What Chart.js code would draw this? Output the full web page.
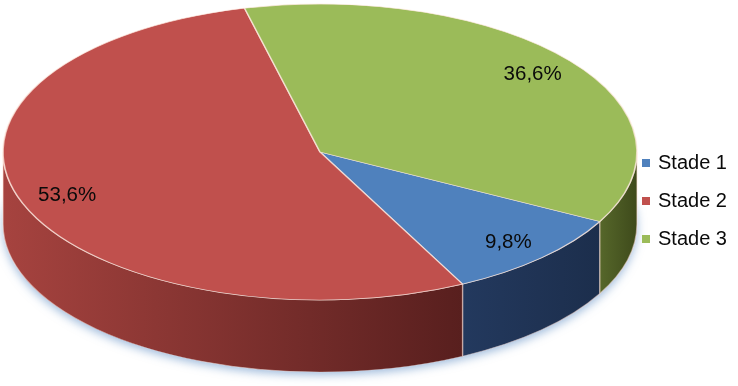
<!DOCTYPE html>
<html lang="fr">
<head>
<meta charset="UTF-8">
<title>Stades</title>
<script src="https://cdn.jsdelivr.net/npm/chart.js@4"></script>
<style>
  html, body { margin: 0; padding: 0; background: #fff; }
</style>
</head>
<body>
<canvas id="pie" width="738" height="386"></canvas>
<script>
const labels = ['Stade 1', 'Stade 2', 'Stade 3']
const values = [9.8, 53.6, 36.6]

const topColors = ['#4F81BD', '#C0504D', '#9BBB59']
// side wall gradient, left -> right
const wallColors = [
  ['#23395E', '#1C2E4C'],
  ['#A6433F', '#581F1E'],
  ['#56672A', '#3E4A1B']
]

// where the tilted disc sits on the page
const disc = { cx: 320, cy: 152, rx: 317, ry: 148, depth: 72, labelAt: 0.85 }
const legendBox = { x: 642, y: 163, gap: 38, size: 8 }
const FONT = "'Liberation Sans', Arial, sans-serif"

const fmt = v => v.toFixed(1).replace('.', ',') + '%'

// parts of [s, e] that face the viewer (lower half of the ellipse)
const frontParts = (s, e) => {
  const out = []
  for (let k = -1; k <= 2; k++) {
    const a = Math.max(s, k * 2 * Math.PI)
    const b = Math.min(e, k * 2 * Math.PI + Math.PI)
    if (b > a) out.push([a, b])
  }
  return out
}

const discPlugin = {
  id: 'disc',
  beforeDatasetsDraw(chart) {
    const ctx = chart.ctx
    const arcs = chart.getDatasetMeta(0).data
    const a0 = arcs[0]
    const R = a0.outerRadius
    const d = disc.depth * R / disc.ry

    ctx.save()
    ctx.translate(disc.cx, disc.cy)
    ctx.scale(disc.rx / R, disc.ry / R)
    ctx.translate(-a0.x, -a0.y)

    // soft bluish shadow under the disc
    ctx.save()
    ctx.shadowColor = 'rgba(79,129,189,0.55)'
    ctx.shadowBlur = 10
    ctx.shadowOffsetY = 3
    ctx.beginPath()
    ctx.arc(a0.x, a0.y + d, R, 0, Math.PI * 2)
    ctx.fillStyle = '#8a9fc0'
    ctx.fill()
    ctx.restore()

    arcs.forEach((arc, i) => {
      frontParts(arc.startAngle, arc.endAngle).forEach(([s, e]) => {
        const xs = a0.x + R * Math.cos(s)
        const xe = a0.x + R * Math.cos(e)
        const g = ctx.createLinearGradient(Math.min(xs, xe), 0, Math.max(xs, xe), 0)
        g.addColorStop(0, wallColors[i][0])
        g.addColorStop(1, wallColors[i][1])
        ctx.beginPath()
        ctx.arc(a0.x, a0.y, R, s, e)
        ctx.arc(a0.x, a0.y + d, R, e, s, true)
        ctx.closePath()
        ctx.fillStyle = g
        ctx.fill()
        ctx.strokeStyle = 'rgba(255,225,215,0.55)'
        ctx.lineWidth = 0.8
        ctx.stroke()
      })
    })
  },
  afterDatasetsDraw(chart) {
    const ctx = chart.ctx
    ctx.restore()
    const arcs = chart.getDatasetMeta(0).data
    ctx.save()
    ctx.font = '20.5px ' + FONT
    ctx.fillStyle = '#0a0a0a'
    ctx.textAlign = 'center'
    ctx.textBaseline = 'middle'
    arcs.forEach((arc, i) => {
      const mid = (arc.startAngle + arc.endAngle) / 2
      const x = disc.cx + Math.cos(mid) * disc.rx * disc.labelAt
      const y = disc.cy + Math.sin(mid) * disc.ry * disc.labelAt
      ctx.fillText(fmt(values[i]), x, y)
    })
    ctx.restore()
  },
  afterDraw(chart) {
    const ctx = chart.ctx
    ctx.save()
    ctx.font = '20px ' + FONT
    ctx.textBaseline = 'middle'
    labels.forEach((name, i) => {
      const y = legendBox.y + i * legendBox.gap
      ctx.fillStyle = topColors[i]
      ctx.fillRect(legendBox.x, y - legendBox.size / 2, legendBox.size, legendBox.size)
      ctx.fillStyle = '#0a0a0a'
      ctx.fillText(name, legendBox.x + 16, y)
    })
    ctx.restore()
  }
}

new Chart(document.getElementById('pie'), {
  type: 'pie',
  data: {
    labels,
    datasets: [{
      data: values,
      backgroundColor: topColors,
      borderColor: 'rgba(255,235,225,0.75)',
      borderWidth: 1
    }]
  },
  options: {
    responsive: false,
    devicePixelRatio: 1,
    animation: false,
    events: [],
    rotation: 118,
    plugins: { legend: { display: false }, tooltip: { enabled: false } }
  },
  plugins: [discPlugin]
})
</script>
</body>
</html>
